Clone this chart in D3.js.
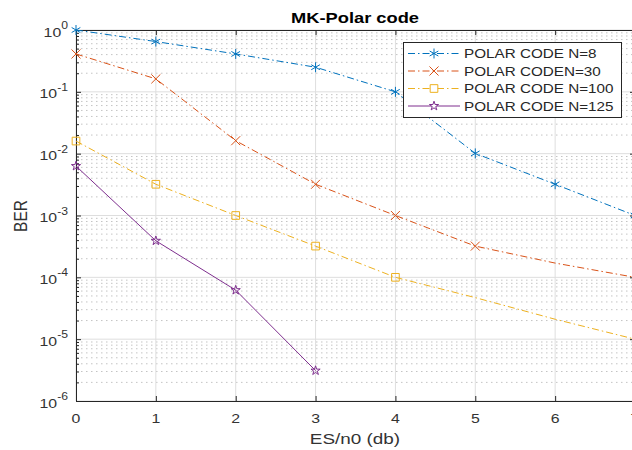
<!DOCTYPE html>
<html>
<head>
<meta charset="utf-8">
<script src="https://cdn.jsdelivr.net/npm/d3@7"></script>
<style>
  body { margin: 0; background: #fff; }
  text { font-family: "Liberation Sans", Arial, sans-serif; }
</style>
</head>
<body>
<div id="chart"></div>
<script>
// data
var esn0 = [0, 1, 2, 3, 4, 5, 6, 7];
var berN8 = [1, 0.65, 0.41, 0.25, 0.1, 0.0101, 0.0032, 0.001];
var berN30 = [0.41, 0.162, 0.0162, 0.0032, 0.001, 0.00032, 0.00017, 0.0001];
var berN100 = [0.016, 0.0032, 0.001, 0.00032, 0.0001, 0.000047, 0.000021, 0.00001];
var berN125 = [0.0063, 0.00039, 0.000062, 0.0000031];
var seriesNames = ['POLAR CODE N=8', 'POLAR CODEN=30', 'POLAR CODE N=100', 'POLAR CODE N=125'];
var markerCounts = [8, 6, 5, 4];
var xTicks = [0, 1, 2, 3, 4, 5, 6, 7];
var yExponents = [0, -1, -2, -3, -4, -5, -6];

const svgWidth = 632;
const svgHeight = 450;
var margins = { top: 30, left: 76 };
var width = 559;
var height = 371;
var sx = 1.22; // the picture is stretched sideways

var svg = d3.select('#chart')
    .append('svg')
    .attr('width', svgWidth)
    .attr('height', svgHeight);

var chartGroup = svg.append('g')
    .attr('transform', `translate(${margins.left}, ${margins.top})`);

var xScale = d3.scaleLinear().domain([0, 7]).range([0, width]);
var yScale = d3.scaleLog().domain([1e-6, 1]).range([height, 0]);

var decades = yExponents.map(e => Math.pow(10, e));
var minors = [];
yExponents.slice(1).forEach(function(e) {
    for (var k = 2; k <= 9; k++) minors.push(k * Math.pow(10, e));
});

// minor grid (dotted)
chartGroup.append('g').selectAll('line')
    .data(minors).enter().append('line')
    .attr('x1', 0).attr('x2', width)
    .attr('y1', d => yScale(d)).attr('y2', d => yScale(d))
    .attr('stroke', '#c4c4c4').attr('stroke-width', 1)
    .attr('stroke-dasharray', '1.5,3.5');

// major grid
chartGroup.append('g').selectAll('line')
    .data(decades).enter().append('line')
    .attr('x1', 0).attr('x2', width)
    .attr('y1', d => yScale(d)).attr('y2', d => yScale(d))
    .attr('stroke', '#dedede').attr('stroke-width', 1);
chartGroup.append('g').selectAll('line')
    .data(xTicks).enter().append('line')
    .attr('x1', d => xScale(d)).attr('x2', d => xScale(d))
    .attr('y1', 0).attr('y2', height)
    .attr('stroke', '#dedede').attr('stroke-width', 1);

// axes, ticks pointing inward
function styleAxis(g) {
    g.selectAll('path.domain').attr('stroke', '#262626');
    g.selectAll('.tick line').attr('stroke', '#262626');
    g.selectAll('text').remove();
}
chartGroup.append('g')
    .call(d3.axisLeft(yScale).tickValues(minors).tickSize(-3).tickSizeOuter(0).tickFormat(''))
    .call(styleAxis);
chartGroup.append('g')
    .call(d3.axisLeft(yScale).tickValues(decades).tickSize(-5).tickSizeOuter(0).tickFormat(''))
    .call(styleAxis);
chartGroup.append('g')
    .attr('transform', `translate(0, ${height})`)
    .call(d3.axisBottom(xScale).tickValues(xTicks).tickSize(-5).tickSizeOuter(0).tickFormat(''))
    .call(styleAxis);
chartGroup.append('g')
    .call(d3.axisTop(xScale).tickValues(xTicks).tickSize(-5).tickSizeOuter(0).tickFormat(''))
    .call(styleAxis);
chartGroup.append('g')
    .attr('transform', `translate(${width}, 0)`)
    .call(d3.axisRight(yScale).tickValues(decades).tickSize(-5).tickSizeOuter(0).tickFormat(''))
    .call(styleAxis);

// y tick labels 10^e
var yLabels = chartGroup.append('g').selectAll('text')
    .data(yExponents).enter().append('text')
    .attr('transform', d => `translate(-8, ${yScale(Math.pow(10, d)) + 6.5}) scale(${sx},1)`)
    .attr('text-anchor', 'end')
    .attr('fill', '#333')
    .style('font-size', '13px');
yLabels.append('tspan').text('10');
yLabels.append('tspan')
    .attr('dy', -7.5)
    .style('font-size', '10px')
    .text(d => d);

// x tick labels
chartGroup.append('g').selectAll('text')
    .data(xTicks).enter().append('text')
    .attr('transform', d => `translate(${xScale(d)}, ${height + 22}) scale(${sx},1)`)
    .attr('text-anchor', 'middle')
    .attr('fill', '#333')
    .style('font-size', '13px')
    .text(d => d);

// series
var series = [
    { values: berN8, color: '#0072BD', dash: '7,3,1.5,3', symbol: d3.symbolAsterisk, size: 70 },
    { values: berN30, color: '#D95319', dash: '7,3,1.5,3', symbol: d3.symbolTimes, size: 55 },
    { values: berN100, color: '#EDB120', dash: '7,3,1.5,3', symbol: d3.symbolSquare2, size: 75 },
    { values: berN125, color: '#7E2F8E', dash: null, symbol: d3.symbolStar, size: 26 }
];

var line = d3.line()
    .x(d => xScale(d.x))
    .y(d => yScale(d.y));

series.forEach(function(s, i) {
    var pts = s.values.map((v, j) => ({ x: esn0[j], y: v }));
    chartGroup.append('path')
        .datum(pts)
        .attr('d', line)
        .attr('fill', 'none')
        .attr('stroke', s.color)
        .attr('stroke-width', 1)
        .attr('stroke-dasharray', s.dash);
    chartGroup.selectAll('.m' + i)
        .data(pts.slice(0, markerCounts[i]))
        .enter().append('path')
        .attr('transform', d => `translate(${xScale(d.x)}, ${yScale(d.y)})`)
        .attr('d', d3.symbol().type(s.symbol).size(s.size))
        .attr('fill', 'none')
        .attr('stroke', s.color)
        .attr('stroke-width', 1);
});

// title and axis labels
svg.append('text')
    .attr('transform', `translate(355, 23) scale(${sx},1)`)
    .attr('text-anchor', 'middle')
    .style('font-size', '15px')
    .style('font-weight', 'bold')
    .attr('fill', '#000')
    .text('MK-Polar code');

svg.append('text')
    .attr('transform', `translate(355, 444) scale(${sx},1)`)
    .attr('text-anchor', 'middle')
    .style('font-size', '15.5px')
    .attr('fill', '#333')
    .text('ES/n0 (db)');

svg.append('text')
    .attr('transform', `translate(27, 216) scale(${sx},1) rotate(-90)`)
    .attr('text-anchor', 'middle')
    .style('font-size', '15.5px')
    .attr('fill', '#333')
    .text('BER');

// legend
var legend = svg.append('g');
legend.append('rect')
    .attr('x', 403.5).attr('y', 42.5)
    .attr('width', 218).attr('height', 75)
    .attr('fill', '#fff')
    .attr('stroke', '#262626')
    .attr('stroke-width', 1);

series.forEach(function(s, i) {
    var ly = 53.5 + i * 17.5;
    legend.append('line')
        .attr('x1', 408).attr('x2', 460)
        .attr('y1', ly).attr('y2', ly)
        .attr('stroke', s.color)
        .attr('stroke-width', 1)
        .attr('stroke-dasharray', s.dash);
    legend.append('path')
        .attr('transform', `translate(434, ${ly})`)
        .attr('d', d3.symbol().type(s.symbol).size(s.size))
        .attr('fill', s.symbol === d3.symbolSquare2 || s.symbol === d3.symbolStar ? '#fff' : 'none')
        .attr('stroke', s.color)
        .attr('stroke-width', 1);
    legend.append('text')
        .attr('transform', `translate(464, ${ly + 4.5}) scale(${sx},1)`)
        .style('font-size', '12.5px')
        .attr('fill', '#262626')
        .text(seriesNames[i]);
});
</script>
</body>
</html>
